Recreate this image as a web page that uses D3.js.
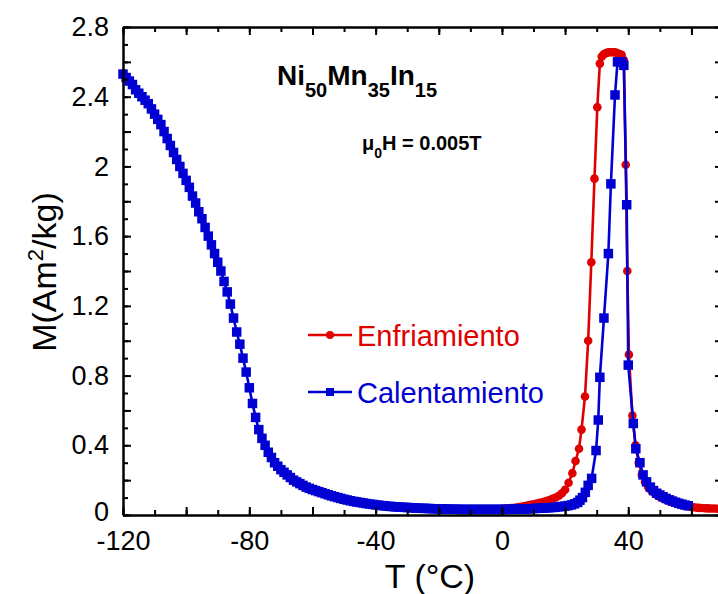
<!DOCTYPE html>
<html><head><meta charset="utf-8">
<script src="https://cdn.jsdelivr.net/npm/d3@7"></script>
<style>html,body{margin:0;padding:0;background:#fff;}svg{display:block;}</style>
</head><body>
<svg id="chart" width="718" height="594"></svg>
<script>
// ---- data ----
const blueT = [-120,-119,-118,-117,-116,-115,-114,-113,-112,-111,-110,-109,-108,-107,-106,-105,-104,-103,-102,-101,-100,-99,-98,-97,-96,-95,-94,-93,-92,-91,-90,-89,-88,-87,-86,-85,-84,-83,-82,-81,-80,-79,-78,-77,-76,-75,-74,-73,-72,-71,-70,-69,-68,-67,-66,-65,-64,-63,-62,-61,-60,-59,-58,-57,-56,-55,-54,-53,-52,-51,-50,-49,-48,-47,-46,-45,-44,-43,-42,-41,-40,-39,-38,-37,-36,-35,-34,-33,-32,-31,-30,-29,-28,-27,-26,-25,-24,-23,-22,-21,-20,-19,-18,-17,-16,-15,-14,-13,-12,-11,-10,-9,-8,-7,-6,-5,-4,-3,-2,-1,0,1,2,3,4,5,6,7,8,9,10,11,12,13,14,15,16,17,18,19,20,21,22,23,24,24.7,25.5,26.4,27.3,28.4,29.8,30.5,31.0,32.3,33.7,34.5,35.8,36.6,37.9,38.6,39.5,40.0,41.6,42.4,43.7,44.7,45.8,47,48,49,50,51,52,53,54,55,56,57,58,59];
const blueM = [2.53,2.51,2.49,2.47,2.44,2.42,2.40,2.38,2.36,2.33,2.30,2.27,2.24,2.20,2.16,2.12,2.08,2.04,2.00,1.96,1.92,1.88,1.83,1.79,1.74,1.70,1.65,1.60,1.55,1.50,1.45,1.40,1.34,1.28,1.21,1.13,1.05,0.98,0.90,0.82,0.73,0.64,0.56,0.49,0.44,0.40,0.36,0.33,0.30,0.28,0.26,0.245,0.23,0.215,0.20,0.19,0.18,0.17,0.16,0.153,0.146,0.14,0.134,0.128,0.122,0.116,0.11,0.105,0.10,0.095,0.09,0.086,0.082,0.078,0.075,0.072,0.069,0.066,0.063,0.061,0.058,0.056,0.054,0.052,0.050,0.049,0.047,0.046,0.045,0.044,0.043,0.042,0.041,0.040,0.039,0.038,0.038,0.037,0.036,0.036,0.035,0.035,0.034,0.034,0.033,0.033,0.033,0.032,0.032,0.032,0.032,0.032,0.032,0.032,0.032,0.032,0.032,0.032,0.032,0.032,0.032,0.032,0.033,0.033,0.033,0.034,0.034,0.035,0.035,0.036,0.037,0.038,0.039,0.040,0.041,0.042,0.043,0.045,0.047,0.049,0.051,0.054,0.058,0.064,0.072,0.085,0.10,0.13,0.17,0.21,0.37,0.545,0.79,1.13,1.50,1.90,2.41,2.60,2.60,2.58,1.78,0.86,0.525,0.38,0.30,0.23,0.19,0.16,0.14,0.125,0.115,0.105,0.095,0.087,0.080,0.073,0.067,0.062,0.057,0.053,0.050];
const redT = [0,1,2,3,4,5,6,7,8,9,10,11,12,13,14,15,16,17,18,19,20,21.1,22.3,23.3,24.4,25.2,26.3,27.3,28.3,29.3,30.2,31.0,31.6,32.3,33.0,33.7,34.4,35.1,35.8,36.5,37.2,37.9,38.6,39.2,39.7,40.2,41.3,42.3,43.3,44.3,45.3,46.3,47.3,48.3,49.3,50.3,51.3,52.3,53.3,54.3,55.3,56.3,57.3,58.3,59.3,60.3,61.3,62.3,63.3,64.3,65.3,66.3,67.3,68.3,69.3,70.3];
const redM = [0.036,0.037,0.038,0.040,0.042,0.044,0.047,0.050,0.054,0.058,0.062,0.066,0.070,0.075,0.080,0.086,0.093,0.10,0.11,0.125,0.145,0.185,0.24,0.31,0.38,0.49,0.68,1.0,1.45,1.93,2.34,2.59,2.63,2.645,2.65,2.655,2.655,2.655,2.655,2.65,2.645,2.64,2.61,2.01,1.40,0.92,0.57,0.40,0.30,0.23,0.19,0.16,0.14,0.125,0.11,0.10,0.092,0.085,0.078,0.072,0.066,0.061,0.056,0.052,0.048,0.045,0.043,0.041,0.040,0.039,0.038,0.037,0.037,0.036,0.036,0.036];
const xLabelTicks = [-120,-80,-40,0,40];
const yLabelTicks = [0,0.4,0.8,1.2,1.6,2,2.4,2.8];
const yLabelText = ["0","0.4","0.8","1.2","1.6","2","2.4","2.8"];
const seriesNames = ["Enfriamiento","Calentamiento"];

// ---- layout ----
const RED = "#e00000", BLUE = "#0000d2";
const svg = d3.select("#chart");
const pL = 123, pR = 723, pT = 27, pB = 515;
const x = d3.scaleLinear().domain([-120,70]).range([pL,pR]);
const y = d3.scaleLinear().domain([0,2.8]).range([pB,pT]);
const FONT = "'Liberation Sans', Arial, sans-serif";

const red = redT.map((t,i)=>({t, m:redM[i]}));
const blue = blueT.map((t,i)=>({t, m:blueM[i]}));
const line = d3.line().x(d=>x(d.t)).y(d=>y(d.m));
const SQ = 9.5, CR = 4.3;

function drawSeries(data, color, shape){
  svg.append("path").datum(data).attr("d", line)
    .attr("fill","none").attr("stroke",color).attr("stroke-width",2.6);
  const g = svg.append("g");
  if(shape==="circle"){
    g.selectAll("circle").data(data).join("circle")
      .attr("cx",d=>x(d.t)).attr("cy",d=>y(d.m)).attr("r",CR).attr("fill",color);
  } else {
    g.selectAll("rect").data(data).join("rect")
      .attr("x",d=>x(d.t)-SQ/2).attr("y",d=>y(d.m)-SQ/2).attr("width",SQ).attr("height",SQ).attr("fill",color);
  }
}
drawSeries(red, RED, "circle");
drawSeries(blue, BLUE, "square");

// ---- axes (inward ticks on all four sides) ----
const xMinor = d3.range(-120, 71, 10), xMajor = d3.range(-120, 71, 20);
const yMinor = d3.range(0, 28.1, 1).map(v=>v/10), yMajor = d3.range(0, 28.1, 2).map(v=>v/10);

function styleAxis(g){ g.selectAll("path.domain").attr("stroke","#000").attr("stroke-width",2);
  g.selectAll(".tick line").attr("stroke","#000").attr("stroke-width",2); }

svg.append("g").attr("transform",`translate(0,${pB})`)
  .call(d3.axisBottom(x).tickValues(xMinor).tickSize(-5).tickSizeOuter(0).tickFormat(""))
  .call(styleAxis);
const gx = svg.append("g").attr("transform",`translate(0,${pB})`)
  .call(d3.axisBottom(x).tickValues(xMajor).tickSize(-8).tickSizeOuter(0).tickPadding(16)
    .tickFormat(d=> xLabelTicks.includes(d) ? String(d) : ""))
  .call(styleAxis);
gx.selectAll("text").attr("font-family",FONT).attr("font-size",27).attr("fill","#000");
svg.append("g").attr("transform",`translate(0,${pT})`)
  .call(d3.axisTop(x).tickValues(xMinor).tickSize(-5).tickSizeOuter(0).tickFormat("")).call(styleAxis);
svg.append("g").attr("transform",`translate(0,${pT})`)
  .call(d3.axisTop(x).tickValues(xMajor).tickSize(-8).tickSizeOuter(0).tickFormat("")).call(styleAxis);
svg.append("g").attr("transform",`translate(${pL},0)`)
  .call(d3.axisLeft(y).tickValues(yMinor).tickSize(-5).tickSizeOuter(0).tickFormat("")).call(styleAxis);
const gy = svg.append("g").attr("transform",`translate(${pL},0)`)
  .call(d3.axisLeft(y).tickValues(yMajor).tickSize(-8).tickSizeOuter(0).tickPadding(14)
    .tickFormat(d=>{ const i = yLabelTicks.findIndex(v=>Math.abs(v-d)<1e-6); return i>=0 ? yLabelText[i] : ""; }))
  .call(styleAxis);
gy.selectAll("text").attr("font-family",FONT).attr("font-size",27).attr("fill","#000");
gy.selectAll("text").filter(d=>d===0).attr("dy","0.2em");
svg.append("g").attr("transform",`translate(${pR},0)`)
  .call(d3.axisRight(y).tickValues(yMinor).tickSize(-5).tickSizeOuter(0).tickFormat("")).call(styleAxis);
svg.append("g").attr("transform",`translate(${pR},0)`)
  .call(d3.axisRight(y).tickValues(yMajor).tickSize(-8).tickSizeOuter(0).tickFormat("")).call(styleAxis);

// axis titles
svg.append("text").attr("x",430).attr("y",588).attr("text-anchor","middle")
  .attr("font-family",FONT).attr("font-size",34).text("T (°C)");
const yt = svg.append("text").attr("transform","translate(56,272) rotate(-90)").attr("text-anchor","middle")
  .attr("font-family",FONT).attr("font-size",34);
yt.append("tspan").text("M(Am");
yt.append("tspan").attr("font-size",22).attr("dy",-13).text("2");
yt.append("tspan").attr("dy",13).text("/kg)");

// composition label
const comp = svg.append("text").attr("x",277).attr("y",85).attr("font-family",FONT)
  .attr("font-weight","bold").attr("font-size",28);
[["Ni","50"],["Mn","35"],["In","15"]].forEach(([el,sub],i)=>{
  comp.append("tspan").attr("font-size",28).attr("dy",i===0?0:-12).text(el);
  comp.append("tspan").attr("font-size",20).attr("dy",12).text(sub);
});
const fld = svg.append("text").attr("x",362).attr("y",150).attr("font-family",FONT)
  .attr("font-weight","bold").attr("font-size",20);
fld.append("tspan").text("μ");
fld.append("tspan").attr("font-size",14).attr("dy",8).text("0");
fld.append("tspan").attr("dy",-8).text("H = 0.005T");

// legend
const leg = [{name:seriesNames[0], color:RED, shape:"circle", y:335},
             {name:seriesNames[1], color:BLUE, shape:"square", y:392}];
leg.forEach(l=>{
  svg.append("line").attr("x1",308).attr("x2",352).attr("y1",l.y).attr("y2",l.y)
    .attr("stroke",l.color).attr("stroke-width",2.4);
  if(l.shape==="circle") svg.append("circle").attr("cx",330).attr("cy",l.y).attr("r",4).attr("fill",l.color);
  else svg.append("rect").attr("x",326).attr("y",l.y-4).attr("width",8).attr("height",8).attr("fill",l.color);
  svg.append("text").attr("x",357).attr("y",l.y+11).attr("font-family",FONT).attr("font-size",29)
    .attr("fill",l.color).text(l.name);
});
</script>
</body></html>
